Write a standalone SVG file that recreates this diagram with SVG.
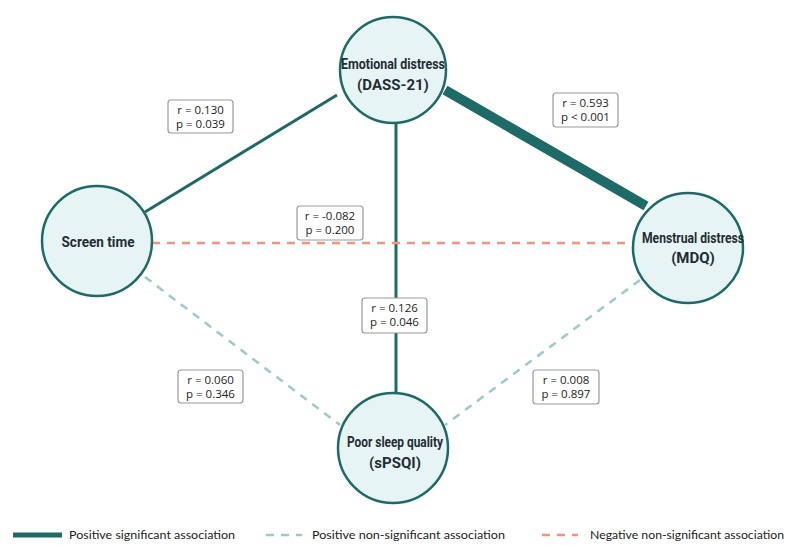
<svg xmlns="http://www.w3.org/2000/svg" width="788" height="545" viewBox="0 0 788 545">
<style>
.node{fill:#e6f4f3;stroke:#1d6b67;stroke-width:2.5}
.nl{font-family:Roboto,"Liberation Sans",sans-serif;font-weight:bold;font-size:15px;fill:#1f2d33;text-anchor:middle}
.sig{stroke:#1d6b67;fill:none}
.pns{stroke:#9ccac7;stroke-width:2.5;stroke-dasharray:8 7;fill:none}
.nns{stroke:#f3937a;stroke-width:2.5;stroke-dasharray:8 7;fill:none}
.lb rect{fill:#fff;stroke:#9a9a9a;stroke-width:1.2}
.lb text{font-family:"Open Sans","Liberation Sans",sans-serif;font-size:11.5px;fill:#222;text-anchor:middle}
.lg{font-family:Lato,"Open Sans",sans-serif;font-size:12px;fill:#222}
</style>
<rect width="788" height="545" fill="#fff"/>
<g id="connectors">
<line class="sig" x1="337" y1="95" x2="145" y2="212" stroke-width="3"/>
<line class="sig" x1="445" y1="90" x2="646" y2="206" stroke-width="10"/>
<line class="sig" x1="396" y1="120" x2="396" y2="394" stroke-width="3"/>
<line class="nns" x1="152" y1="243" x2="633" y2="243"/>
<line class="pns" x1="145" y1="277" x2="340" y2="425"/>
<line class="pns" x1="640" y1="280" x2="445" y2="425"/>
</g>
<g id="labels">
<g class="lb"><rect x="168" y="100" width="65" height="33" rx="3"/><text x="200.5" y="114">r = 0.130</text><text x="200.5" y="128">p = 0.039</text></g>
<g class="lb"><rect x="553" y="93" width="65" height="34" rx="3"/><text x="585.5" y="107">r = 0.593</text><text x="585.5" y="121">p &lt; 0.001</text></g>
<g class="lb"><rect x="297" y="206" width="66" height="34" rx="3"/><text x="330" y="220">r = -0.082</text><text x="330" y="234">p = 0.200</text></g>
<g class="lb"><rect x="362" y="298" width="65" height="35" rx="3"/><text x="394.5" y="312">r = 0.126</text><text x="394.5" y="326">p = 0.046</text></g>
<g class="lb"><rect x="178" y="370" width="65" height="33" rx="3"/><text x="210.5" y="384">r = 0.060</text><text x="210.5" y="398">p = 0.346</text></g>
<g class="lb"><rect x="533" y="370" width="66" height="34" rx="3"/><text x="566" y="384">r = 0.008</text><text x="566" y="398">p = 0.897</text></g>
</g>
<g id="emotional"><circle class="node" cx="393" cy="70" r="53"/><text class="nl" x="393" y="69" textLength="104" lengthAdjust="spacingAndGlyphs">Emotional distress</text><text class="nl" x="393" y="90">(DASS-21)</text></g>
<g id="screen"><circle class="node" cx="97" cy="241" r="55"/><text class="nl" x="98" y="247" textLength="73" lengthAdjust="spacingAndGlyphs">Screen time</text></g>
<g id="menstrual"><circle class="node" cx="688" cy="248" r="55"/><text class="nl" x="693" y="243" textLength="102" lengthAdjust="spacingAndGlyphs">Menstrual distress</text><text class="nl" x="693" y="263">(MDQ)</text></g>
<g id="sleep"><circle class="node" cx="393" cy="448" r="55"/><text class="nl" x="395" y="447" textLength="96" lengthAdjust="spacingAndGlyphs">Poor sleep quality</text><text class="nl" x="395" y="468">(sPSQI)</text></g>
<g id="legend">
<line x1="13" y1="535" x2="62" y2="535" stroke="#1d6b67" stroke-width="5"/>
<text class="lg" x="69" y="539" textLength="166" lengthAdjust="spacingAndGlyphs">Positive significant association</text>
<line class="pns" x1="266" y1="535" x2="302" y2="535" stroke-dasharray="8 6"/>
<text class="lg" x="312" y="539" textLength="193" lengthAdjust="spacingAndGlyphs">Positive non-significant association</text>
<line class="nns" x1="542" y1="535" x2="578" y2="535" stroke-dasharray="8 6"/>
<text class="lg" x="590" y="539" textLength="194" lengthAdjust="spacingAndGlyphs">Negative non-significant association</text>
</g>
</svg>
